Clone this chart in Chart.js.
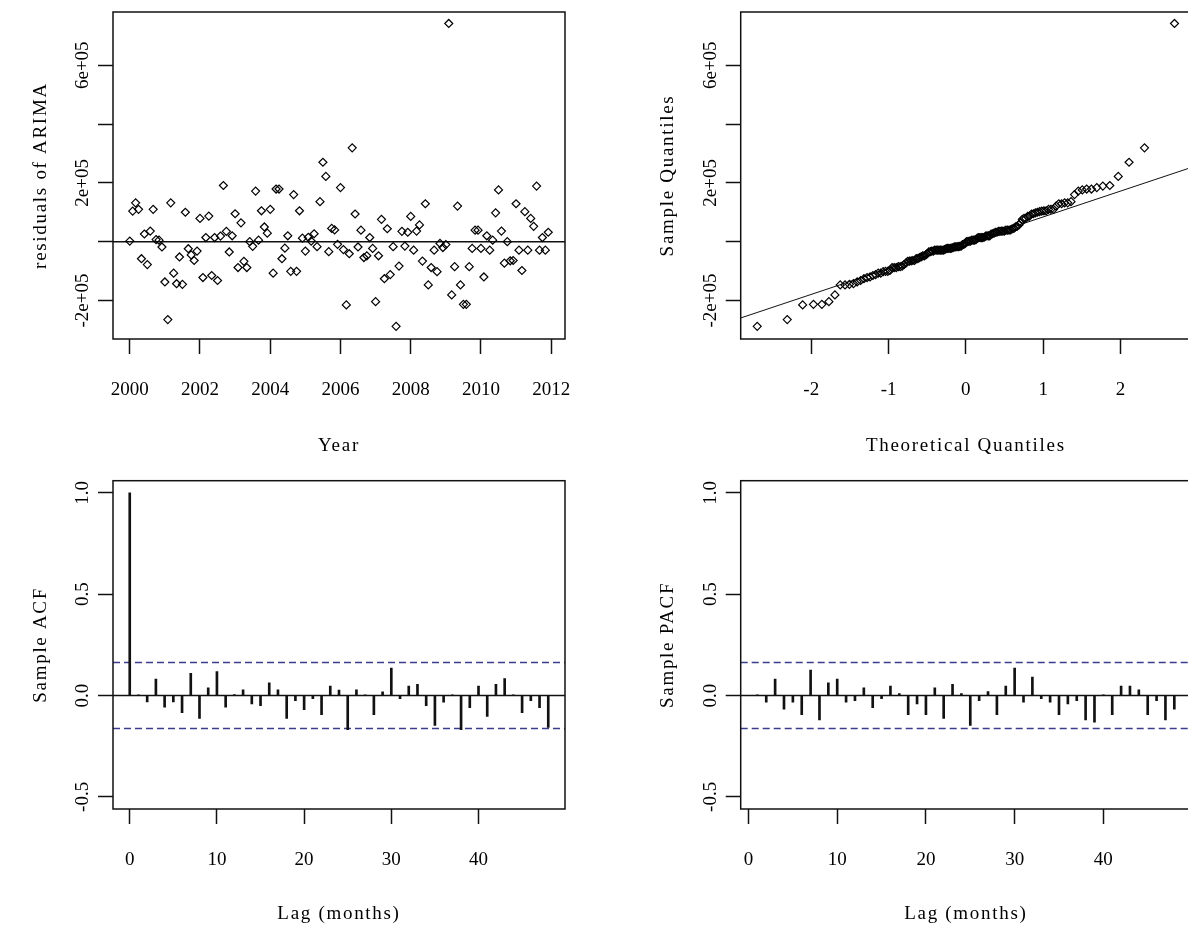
<!DOCTYPE html>
<html>
<head>
<meta charset="utf-8">
<script src="https://cdn.jsdelivr.net/npm/chart.js@4.4.1/dist/chart.umd.min.js"></script>
<style>
  html, body { margin: 0; padding: 0; background: #fff; }
  body { width: 1188px; height: 929px; overflow: hidden; position: relative; }
  canvas { position: absolute; }
</style>
</head>
<body>
<canvas id="resid" width="600" height="460" style="left:0;top:0"></canvas>
<canvas id="qq" width="600" height="460" style="left:627px;top:0"></canvas>
<canvas id="acf" width="600" height="464" style="left:0;top:465px"></canvas>
<canvas id="pacf" width="600" height="464" style="left:627px;top:465px"></canvas>
<script>
// monthly ARIMA residuals, Jan 2000 .. Dec 2011
const startYear = 2000;
const residuals = [
  2000, 104000, 132000, 110000, -58000, 26000, -78000, 36000, 110000, 7000, 5000, -18000,
  -137000, -265000, 132000, -107000, -143000, -52000, -145000, 100000, -24000, -45000, -64000, -32000,
  79000, -122000, 14000, 87000, -115000, 14000, -132000, 19000, 191000, 35000, -35000, 20000,
  95000, -88000, 64000, -67000, -88000, 0, -16000, 172000, 5000, 105000, 50000, 29000,
  110000, -107000, 179000, 179000, -58000, -22000, 20000, -101000, 160000, -101000, 105000, 12000,
  -32000, 15000, 2000, 27000, -17000, 136000, 270000, 222000, -34000, 45000, 40000, -9000,
  184000, -27000, -215000, -41000, 319000, 94000, -18000, 39000, -54000, -48000, 14000, -23000,
  -204000, -48000, 76000, -126000, 44000, -112000, -17000, -288000, -83000, 35000, -15000, 32000,
  86000, -29000, 36000, 57000, -66000, 129000, -147000, -88000, -29000, -102000, -6000, -20000,
  -10000, 742000, -181000, -85000, 121000, -147000, -213000, -213000, -85000, -23000, 39000, 39000,
  -23000, -120000, 20000, -29000, 5000, 98000, 176000, 36000, -73000, 0, -65000, -64000,
  129000, -29000, -98000, 102000, -29000, 79000, 52000, 189000, -29000, 14000, -29000, 32000
];

// sample ACF, lags 0..48
const acfValues = [
  1.0, 0.003, -0.032, 0.081, -0.058, -0.032, -0.085, 0.11, -0.113, 0.038, 0.118, -0.058,
  0.004, 0.028, -0.042, -0.05, 0.063, 0.028, -0.113, -0.025, -0.07, -0.015, -0.095, 0.046,
  0.027, -0.168, 0.028, 0.003, -0.095, 0.018, 0.135, -0.015, 0.046, 0.055, -0.05, -0.148,
  -0.033, 0.003, -0.168, -0.06, 0.046, -0.103, 0.055, 0.083, 0.003, -0.085, -0.025, -0.06,
  -0.158
];
// sample PACF, lags 1..48
const pacfValues = [
  0.003, -0.033, 0.081, -0.068, -0.033, -0.095, 0.125, -0.121, 0.063, 0.081, -0.033, -0.025,
  0.038, -0.06, -0.015, 0.046, 0.01, -0.095, -0.042, -0.095, 0.038, -0.113, 0.055, 0.01,
  -0.148, -0.025, 0.02, -0.095, 0.046, 0.135, -0.033, 0.091, -0.015, -0.033, -0.095, -0.042,
  -0.025, -0.121, -0.131, 0.003, -0.095, 0.046, 0.046, 0.028, -0.095, -0.025, -0.121, -0.068
];
const confLimit = 0.163;

// qqline end points
const qqLineX = [-2.913, 2.913];
const qqLineY = [-259500, 252000];

// axes
const yearTicks = [2000, 2002, 2004, 2006, 2008, 2010, 2012];
const yearTickLabels = ['2000', '2002', '2004', '2006', '2008', '2010', '2012'];
const qTicks = [-2, -1, 0, 1, 2];
const qTickLabels = ['-2', '-1', '0', '1', '2'];
const lagTicks = [0, 10, 20, 30, 40];
const lagTickLabels = ['0', '10', '20', '30', '40'];
const residTicks = [-200000, 0, 200000, 400000, 600000];
const residTickLabels = ['-2e+05', '', '2e+05', '', '6e+05'];
const corrTicks = [-0.5, 0, 0.5, 1.0];
const corrTickLabels = ['-0.5', '0.0', '0.5', '1.0'];

const FONT = { family: 'Liberation Serif', size: 19 };
const INK = '#111';

// box, rotated y tick labels and axis titles, like base R graphics
const rFrame = {
  id: 'rFrame',
  afterDraw(chart, args, opts) {
    const { ctx, chartArea: a } = chart;
    const ys = chart.scales.y;
    ctx.save();
    ctx.strokeStyle = INK;
    ctx.lineWidth = 1.5;
    ctx.strokeRect(a.left, a.top, a.right - a.left, a.bottom - a.top);
    ctx.fillStyle = '#000';
    ctx.font = FONT.size + 'px ' + FONT.family;
    ctx.textAlign = 'center';
    ctx.textBaseline = 'bottom';
    opts.values.forEach((v, i) => {
      if (!opts.labels[i]) return;
      ctx.save();
      ctx.translate(a.left - opts.gap, ys.getPixelForValue(v));
      ctx.rotate(-Math.PI / 2);
      ctx.fillText(opts.labels[i], 0, 0);
      ctx.restore();
    });
    // axis titles
    ctx.letterSpacing = '1.7px';
    ctx.textBaseline = 'middle';
    ctx.fillText(opts.xTitle, (a.left + a.right) / 2, opts.xTitleY);
    ctx.translate(opts.yTitleX, (a.top + a.bottom) / 2);
    ctx.rotate(-Math.PI / 2);
    ctx.fillText(opts.yTitle, 0, 0);
    ctx.restore();
  }
};

function axisGrid() {
  return { display: true, drawOnChartArea: false, drawTicks: true, tickLength: 15,
           tickColor: INK, tickWidth: 1.5, offset: false };
}

function makeScales(c) {
  return {
    x: {
      type: 'linear', min: c.xMin, max: c.xMax, offset: false,
      afterBuildTicks: s => { s.ticks = c.xTicks.map(v => ({ value: v })); },
      afterFit: s => { s.height = c.xAxisHeight; },
      grid: axisGrid(),
      border: { display: false },
      ticks: { autoSkip: false, maxRotation: 0, minRotation: 0, padding: 25, color: '#000', font: FONT,
               callback: (v, i) => c.xLabels[i] },
      title: { display: false }
    },
    y: {
      type: 'linear', min: c.yMin, max: c.yMax,
      afterBuildTicks: s => { s.ticks = c.yTicks.map(v => ({ value: v })); },
      afterFit: s => { s.width = c.yAxisWidth; },
      grid: axisGrid(),
      border: { display: false },
      ticks: { display: false },
      title: { display: false }
    }
  };
}

function baseOptions(c, scales) {
  return {
    responsive: false, animation: false, devicePixelRatio: 1,
    layout: { padding: { top: c.padTop, right: c.padRight, left: 0, bottom: 0 } },
    plugins: { legend: { display: false }, tooltip: { enabled: false },
               rFrame: { values: c.yTicks, labels: c.yLabels, gap: 20,
                         xTitle: c.xTitle, xTitleY: c.xTitleY, yTitle: c.yTitle, yTitleX: 41 } },
    scales: scales
  };
}

function refLine(x0, x1, y0, y1, dash, width) {
  return { type: 'line', data: [{ x: x0, y: y0 }, { x: x1, y: y1 }], showLine: true,
           borderColor: dash ? '#3c3c8c' : INK, borderWidth: width || 1.5, borderDash: dash ? [7, 4] : [],
           pointRadius: 0, fill: false, tension: 0 };
}

const diamond = { pointStyle: 'rectRot', pointRadius: 4, pointBorderWidth: 1.2,
                  borderColor: '#000', backgroundColor: 'rgba(0,0,0,0)', showLine: false };

// 1. residuals over time
const residCfg = {
  xMin: 1999.523, xMax: 2012.393, xTicks: yearTicks, xLabels: yearTickLabels, xTitle: 'Year',
  yMin: -331000, yMax: 781000, yTicks: residTicks, yLabels: residTickLabels, yTitle: 'residuals of ARIMA',
  yAxisWidth: 113, xAxisHeight: 121, padTop: 12, padRight: 35, xTitleY: 446
};
new Chart(document.getElementById('resid'), {
  type: 'scatter',
  data: { datasets: [
    Object.assign({ data: residuals.map((r, i) => ({ x: startYear + i / 12, y: r })) }, diamond),
    refLine(residCfg.xMin, residCfg.xMax, 0, 0, false)
  ] },
  options: baseOptions(residCfg, makeScales(residCfg)),
  plugins: [rFrame]
});

// 2. normal QQ plot: sorted residuals against normal quantiles
function qnorm(p) {
  const a = [-39.69683028665376, 220.9460984245205, -275.9285104469687, 138.3577518672690, -30.66479806614716, 2.506628277459239];
  const b = [-54.47609879822406, 161.5858368580409, -155.6989798598866, 66.80131188771972, -13.28068155288572];
  const c = [-0.007784894002430293, -0.3223964580411365, -2.400758277161838, -2.549732539343734, 4.374664141464968, 2.938163982698783];
  const d = [0.007784695709041462, 0.3224671290700398, 2.445134137142996, 3.754408661907416];
  const lo = 0.02425;
  if (p < lo || p > 1 - lo) {
    const q = Math.sqrt(-2 * Math.log(p < lo ? p : 1 - p));
    const v = (((((c[0] * q + c[1]) * q + c[2]) * q + c[3]) * q + c[4]) * q + c[5]) /
              ((((d[0] * q + d[1]) * q + d[2]) * q + d[3]) * q + 1);
    return p < lo ? v : -v;
  }
  const q = p - 0.5, r = q * q;
  return (((((a[0] * r + a[1]) * r + a[2]) * r + a[3]) * r + a[4]) * r + a[5]) * q /
         (((((b[0] * r + b[1]) * r + b[2]) * r + b[3]) * r + b[4]) * r + 1);
}
const sortedResid = residuals.slice().sort((m, n) => m - n);
const qqPoints = sortedResid.map((r, i) => ({ x: qnorm((i + 0.5) / sortedResid.length), y: r }));

const qqCfg = {
  xMin: -2.913, xMax: 2.913, xTicks: qTicks, xLabels: qTickLabels, xTitle: 'Theoretical Quantiles',
  yMin: -331000, yMax: 781000, yTicks: residTicks, yLabels: residTickLabels, yTitle: 'Sample Quantiles',
  yAxisWidth: 113.7, xAxisHeight: 121, padTop: 12, padRight: 36, xTitleY: 446
};
new Chart(document.getElementById('qq'), {
  type: 'scatter',
  data: { datasets: [
    Object.assign({ data: qqPoints }, diamond),
    refLine(qqLineX[0], qqLineX[1], qqLineY[0], qqLineY[1], false, 1)
  ] },
  options: baseOptions(qqCfg, makeScales(qqCfg)),
  plugins: [rFrame]
});

// 3 + 4. correlograms
function corrChart(id, lags, values, cfg) {
  new Chart(document.getElementById(id), {
    type: 'bar',
    data: { datasets: [
      { type: 'bar', data: lags.map((l, i) => ({ x: l, y: values[i] })), barThickness: 2,
        backgroundColor: INK, borderWidth: 0, grouped: false },
      refLine(cfg.xMin, cfg.xMax, 0, 0, false),
      refLine(cfg.xMin, cfg.xMax, confLimit, confLimit, true),
      refLine(cfg.xMin, cfg.xMax, -confLimit, -confLimit, true)
    ] },
    options: baseOptions(cfg, makeScales(cfg)),
    plugins: [rFrame]
  });
}

const acfLags = acfValues.map((v, i) => i);
const pacfLags = pacfValues.map((v, i) => i + 1);

corrChart('acf', acfLags, acfValues, {
  xMin: -1.92, xMax: 49.92, xTicks: lagTicks, xLabels: lagTickLabels, xTitle: 'Lag (months)',
  yMin: -0.56, yMax: 1.06, yTicks: corrTicks, yLabels: corrTickLabels, yTitle: 'Sample ACF',
  yAxisWidth: 113, xAxisHeight: 120, padTop: 15.7, padRight: 35, xTitleY: 449
});
corrChart('pacf', pacfLags, pacfValues, {
  xMin: -0.88, xMax: 49.88, xTicks: lagTicks, xLabels: lagTickLabels, xTitle: 'Lag (months)',
  yMin: -0.56, yMax: 1.06, yTicks: corrTicks, yLabels: corrTickLabels, yTitle: 'Sample PACF',
  yAxisWidth: 113.7, xAxisHeight: 120, padTop: 15.7, padRight: 36, xTitleY: 449
});
</script>
</body>
</html>
